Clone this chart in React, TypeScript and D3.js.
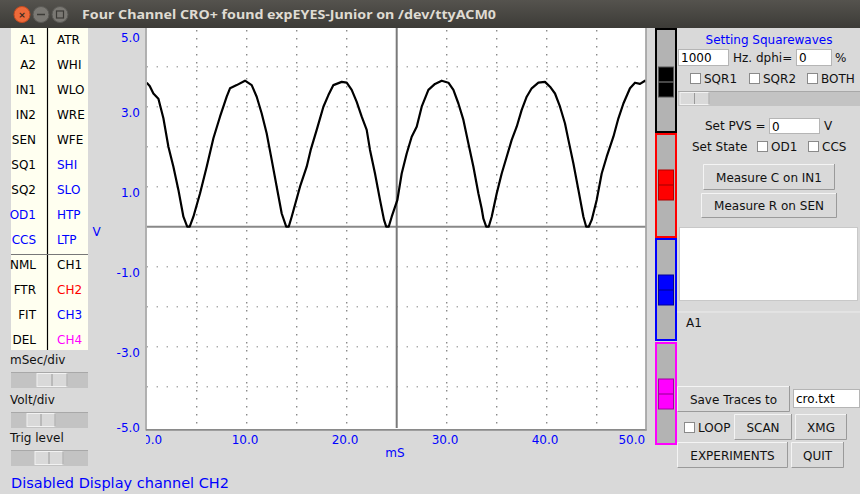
import React from "react";
import * as d3 from "d3";

// ---- data ----
const timeMs = [0, 0.3, 0.67, 1.17, 1.67, 2.17, 2.67, 3.17, 3.67, 4.05, 4.3, 4.67, 5.33, 6.0, 6.67, 7.33, 8.0, 8.33, 9.0, 9.83,
  10.5, 11.0, 11.5, 12.0, 12.5, 13.0, 13.5, 13.95, 14.2, 14.5, 15.33, 16.0, 16.4, 17.0, 17.67, 18.17, 18.67, 19.5,
  20.0, 20.5, 21.0, 21.5, 22.0, 22.33, 22.83, 23.33, 23.73, 23.95, 24.2, 24.5, 25.07, 25.5, 26.0, 26.5, 27.0, 27.5, 28.17, 28.83, 29.5,
  30.17, 30.67, 31.17, 31.67, 32.17, 32.67, 33.17, 33.5, 33.67, 33.95, 34.2, 34.5, 35.0, 35.5, 36.0, 36.5, 37.0, 37.5, 38.0, 38.5, 39.17, 39.83,
  40.33, 40.83, 41.33, 41.83, 42.17, 42.67, 43.17, 43.67, 43.95, 44.2, 44.5, 45.0, 45.5, 46.0, 46.67, 47.17, 47.67, 48.33, 48.83, 49.33, 49.83, 50.0];
const voltage = [3.6, 3.52, 3.33, 3.2, 2.71, 2.0, 1.5, 0.92, 0.25, 0, 0, 0.25, 0.83, 1.5, 2.21, 2.75, 3.25, 3.46, 3.54, 3.65,
  3.54, 3.25, 2.83, 2.33, 1.67, 1.0, 0.33, 0, 0, 0.25, 1.0, 1.5, 1.92, 2.42, 3.0, 3.29, 3.54, 3.62,
  3.6, 3.42, 3.12, 2.75, 2.42, 1.92, 1.33, 0.67, 0.17, 0, 0, 0.25, 0.67, 1.33, 1.83, 2.25, 2.5, 3.0, 3.42, 3.57, 3.65,
  3.6, 3.42, 3.08, 2.67, 2.08, 1.5, 0.83, 0.45, 0.2, 0, 0, 0.25, 0.83, 1.33, 1.75, 2.17, 2.5, 2.92, 3.25, 3.46, 3.6, 3.62,
  3.5, 3.33, 3.0, 2.58, 2.17, 1.58, 0.92, 0.25, 0, 0, 0.17, 0.67, 1.33, 1.75, 2.25, 2.71, 3.08, 3.46, 3.6, 3.57, 3.65, 3.62];

const yTicks = [5, 3, 1, -1, -3, -5];
const xTicks = [0, 10, 20, 30, 40, 50];
const xGrid = [5, 10, 15, 20, 30, 35, 40, 45];
const yGrid = [4, 3, 2, 1, -1, -2, -3, -4];
const cursorMs = 25;

const leftCol = ["A1", "A2", "IN1", "IN2", "SEN", "SQ1", "SQ2", "OD1", "CCS", "NML", "FTR", "FIT", "DEL"];
const leftColColors = ["#000", "#000", "#000", "#000", "#000", "#000", "#000", "#0000ff", "#0000ff", "#000", "#000", "#000", "#000"];
const rightCol = ["ATR", "WHI", "WLO", "WRE", "WFE", "SHI", "SLO", "HTP", "LTP", "CH1", "CH2", "CH3", "CH4"];
const rightColColors = ["#000", "#000", "#000", "#000", "#000", "#0000ff", "#0000ff", "#0000ff", "#0000ff", "#000", "#ff0000", "#0000ff", "#ff00ff"];

const channelColors = ["#000000", "#ff0000", "#0000ff", "#ff00ff"];
const channelThumbDark = ["#555555", "#b00000", "#00009a", "#a000a0"];

const TITLE = "Four Channel CRO+ found expEYES-Junior on /dev/ttyACM0";
const STATUS = "Disabled Display channel CH2";

const FONT = "DejaVu Sans, Verdana, sans-serif";
const BG = "#d9d9d9";

function Button({ x, y, w, h, label }: { x: number; y: number; w: number; h: number; label: string }) {
  return (
    <g>
      <rect x={x} y={y} width={w} height={h} fill={BG} />
      <path d={`M${x + 0.5},${y + h} V${y + 0.5} H${x + w}`} stroke="#f4f4f4" fill="none" />
      <path d={`M${x + 0.5},${y + h - 0.5} H${x + w - 0.5} V${y}`} stroke="#9a9a9a" fill="none" />
      <text x={x + w / 2} y={y + h / 2 + 4.5} textAnchor="middle" fontSize={12} fontFamily={FONT} fill="#111">{label}</text>
    </g>
  );
}

function Entry({ x, y, w, h, value }: { x: number; y: number; w: number; h: number; value: string }) {
  return (
    <g>
      <rect x={x + 0.5} y={y + 0.5} width={w - 1} height={h - 1} fill="#fff" stroke="#b5b5b5" />
      <text x={x + 3} y={y + h / 2 + 4.5} fontSize={12} fontFamily={FONT} fill="#000">{value}</text>
    </g>
  );
}

function Check({ x, y, label }: { x: number; y: number; label: string }) {
  return (
    <g>
      <rect x={x + 0.5} y={y + 0.5} width={10} height={10} fill="#fff" stroke="#8a8a8a" />
      <text x={x + 14} y={y + 10} fontSize={12} fontFamily={FONT} fill="#111">{label}</text>
    </g>
  );
}

function HSlider({ x, y, w, h, tx, tw }: { x: number; y: number; w: number; h: number; tx: number; tw: number }) {
  return (
    <g>
      <rect x={x} y={y} width={w} height={h} fill="#c3c3c3" />
      <line x1={x} x2={x + w} y1={y + 0.5} y2={y + 0.5} stroke="#a8a8a8" />
      <rect x={tx} y={y + 1.5} width={tw} height={h - 3} fill="#d9d9d9" stroke="#f2f2f2" />
      <line x1={tx + tw / 2} x2={tx + tw / 2} y1={y + 2} y2={y + h - 2} stroke="#9a9a9a" />
      <line x1={tx + tw} x2={tx + tw} y1={y + 1.5} y2={y + h - 1.5} stroke="#9a9a9a" />
    </g>
  );
}

export default function App() {
  const xScale = d3.scaleLinear().domain([0, 50]).range([146.7, 646.7]);
  const yScale = d3.scaleLinear().domain([-5, 5]).range([426.7, 26.7]);
  const line = d3.line<number>().x((_, i) => xScale(timeMs[i])).y((v) => yScale(v));
  const rowY = d3.scaleLinear().domain([0, 1]).range([44, 69]);

  const sliderTops = [29, 134, 239, 343];
  const sliderH = [103, 103, 101, 101];
  const thumbTops = [67, 170, 275, 379];

  return (
    <svg width={860} height={494} style={{ position: "fixed", left: 0, top: 0, display: "block" }}>
      <defs>
        <clipPath id="plotclip"><rect x={146.7} y={28} width={499} height={401} /></clipPath>
        <clipPath id="xlabclip"><rect x={146} y={428} width={510} height={30} /></clipPath>
        <linearGradient id="tb" x1="0" y1="0" x2="0" y2="1">
          <stop offset="0" stopColor="#55534e" />
          <stop offset="1" stopColor="#3c3b37" />
        </linearGradient>
      </defs>
      <rect x={0} y={0} width={860} height={494} fill={BG} />

      {/* left key panel */}
      <rect x={11} y={28} width={77} height={322} fill="#fffff0" />
      <line x1={47.5} x2={47.5} y1={28} y2={350} stroke="#000" strokeWidth={1.2} />
      <line x1={11} x2={88} y1={254.5} y2={254.5} stroke="#777" strokeWidth={1} />
      {leftCol.map((s, i) => (
        <text key={s} x={36} y={rowY(i)} textAnchor="end" fontSize={12} fontFamily={FONT} fill={leftColColors[i]}>{s}</text>
      ))}
      {rightCol.map((s, i) => (
        <text key={s} x={57} y={rowY(i)} fontSize={12} fontFamily={FONT} fill={rightColColors[i]}>{s}</text>
      ))}

      {/* left sliders */}
      <text x={10} y={364} fontSize={12} fontFamily={FONT} fill="#111">mSec/div</text>
      <HSlider x={11} y={372} w={77} h={16} tx={37} tw={30} />
      <text x={10} y={404} fontSize={12} fontFamily={FONT} fill="#111">Volt/div</text>
      <HSlider x={11} y={412} w={77} h={16} tx={27} tw={28} />
      <text x={10} y={442} fontSize={12} fontFamily={FONT} fill="#111">Trig level</text>
      <HSlider x={11} y={450} w={77} h={16} tx={35} tw={28} />

      {/* plot */}
      <rect x={146.7} y={28} width={499} height={401} fill="#fff" />
      <g clipPath="url(#plotclip)">
        {yGrid.map((v) => (
          <line key={"h" + v} x1={146.7} x2={646.7} y1={yScale(v)} y2={yScale(v)} stroke="#8a8a8a" strokeWidth={1.6} strokeDasharray="1 9" />
        ))}
        {xGrid.map((t) => (
          <line key={"v" + t} x1={xScale(t)} x2={xScale(t)} y1={30} y2={429} stroke="#8a8a8a" strokeWidth={1.4} strokeDasharray="1.6 6.4" />
        ))}
        <line x1={146.7} x2={646.7} y1={yScale(0)} y2={yScale(0)} stroke="#888" strokeWidth={2} />
        <line x1={xScale(cursorMs)} x2={xScale(cursorMs)} y1={26} y2={428} stroke="#7a7a7a" strokeWidth={2} />
        <path d={line(voltage) || ""} fill="none" stroke="#000" strokeWidth={2.2} strokeLinejoin="round" />
      </g>
      <line x1={146} x2={146} y1={26} y2={430.5} stroke="#a0a0a0" strokeWidth={1.5} />
      <line x1={146} x2={646.5} y1={429.8} y2={429.8} stroke="#8a8a8a" strokeWidth={1.8} />
      <line x1={646} x2={646} y1={26} y2={430.5} stroke="#9a9a9a" strokeWidth={1.5} />

      {/* y labels */}
      {yTicks.map((v) => {
        const top = Math.min(Math.max(yScale(v) + 1.5, 33), 423);
        return (
          <text key={"yl" + v} x={140} y={top + 8.8} textAnchor="end" fontSize={12} fontFamily={FONT} fill="#0000ff">{v.toFixed(1)}</text>
        );
      })}
      <text x={96.7} y={236} textAnchor="middle" fontSize={12} fontFamily={FONT} fill="#0000ff">V</text>

      {/* x labels */}
      <g clipPath="url(#xlabclip)">
        {xTicks.map((t, i) => {
          const anchor = i === 0 ? "start" : i === xTicks.length - 1 ? "end" : "middle";
          const x = i === 0 ? xScale(t) - 3.7 : i === xTicks.length - 1 ? xScale(t) - 1.5 : xScale(t) - 1.7;
          return (
            <text key={"xl" + t} x={x} y={444} textAnchor={anchor} fontSize={12} fontFamily={FONT} fill="#0000ff">{t.toFixed(1)}</text>
          );
        })}
      </g>
      <text x={395} y={457} textAnchor="middle" fontSize={12} fontFamily={FONT} fill="#0000ff">mS</text>

      {/* channel vertical sliders */}
      {channelColors.map((c, i) => (
        <g key={"cs" + i}>
          <rect x={656} y={sliderTops[i]} width={20} height={sliderH[i]} fill="#b3b3b3" stroke={c} strokeWidth={2} />
          <rect x={658.5} y={thumbTops[i]} width={15} height={30} fill={c} stroke={channelThumbDark[i]} strokeWidth={1} />
          <line x1={658.5} x2={673.5} y1={thumbTops[i] + 15} y2={thumbTops[i] + 15} stroke={i === 0 ? "#777" : channelThumbDark[i]} strokeWidth={1.2} />
        </g>
      ))}

      {/* right panel */}
      <text x={769} y={44} textAnchor="middle" fontSize={12} fontFamily={FONT} fill="#0000ff">Setting Squarewaves</text>
      <Entry x={678} y={49} w={51} h={17} value="1000" />
      <text x={733} y={62} fontSize={12} fontFamily={FONT} fill="#111">Hz. dphi=</text>
      <Entry x={796} y={49} w={36} h={17} value="0" />
      <text x={835} y={62} fontSize={12} fontFamily={FONT} fill="#111">%</text>
      <Check x={690} y={73} label="SQR1" />
      <Check x={749} y={73} label="SQR2" />
      <Check x={807} y={73} label="BOTH" />
      <HSlider x={678} y={91} w={182} h={15} tx={680} tw={29} />

      <text x={705} y={130} fontSize={12} fontFamily={FONT} fill="#111">Set PVS =</text>
      <Entry x={769} y={118} w={51} h={16} value="0" />
      <text x={824} y={130} fontSize={12} fontFamily={FONT} fill="#111">V</text>
      <text x={692} y={151} fontSize={12} fontFamily={FONT} fill="#111">Set State</text>
      <Check x={757} y={141} label="OD1" />
      <Check x={808} y={141} label="CCS" />
      <Button x={703} y={164} w={132} h={26} label="Measure C on IN1" />
      <Button x={701} y={193} w={136} h={25} label="Measure R on SEN" />

      <rect x={679.5} y={227.5} width={178} height={73} fill="#fff" stroke="#c8c8c8" />
      <line x1={677} x2={860} y1={312} y2={312} stroke="#ececec" />
      <text x={686} y={327} fontSize={12} fontFamily={FONT} fill="#111">A1</text>

      <Button x={677} y={386} w={113} h={26} label="Save Traces to" />
      <Entry x={793} y={389} w={67} h={19} value="cro.txt" />
      <Check x={684} y={422} label="LOOP" />
      <Button x={734} y={414} w={58} h={26} label="SCAN" />
      <Button x={795} y={414} w={52} h={26} label="XMG" />
      <Button x={677} y={442} w={111} h={26} label="EXPERIMENTS" />
      <Button x={791} y={442} w={53} h={26} label="QUIT" />

      {/* status */}
      <text x={11} y={488} fontSize={14.5} fontFamily={FONT} fill="#0000ff" textLength={218} lengthAdjust="spacingAndGlyphs">{STATUS}</text>

      {/* title bar */}
      <rect x={0} y={0} width={860} height={28} fill="url(#tb)" />
      <circle cx={22} cy={14.5} r={8} fill="#ef6a3a" stroke="#c44a1f" />
      <text x={22} y={18} textAnchor="middle" fontSize={9} fontWeight="bold" fontFamily={FONT} fill="#3c2a20">×</text>
      <circle cx={41} cy={14.5} r={8} fill="#7a7873" stroke="#5a5955" />
      <line x1={37} x2={45} y1={14.5} y2={14.5} stroke="#3c3b37" strokeWidth={1.5} />
      <circle cx={60} cy={14.5} r={8} fill="#7a7873" stroke="#5a5955" />
      <rect x={56.5} y={11} width={7} height={7} fill="none" stroke="#3c3b37" strokeWidth={1.2} />
      <text x={82} y={19} fontSize={13} fontWeight="bold" fontFamily="Noto Sans, DejaVu Sans, sans-serif" fill="#dfdbd2" textLength={414} lengthAdjust="spacingAndGlyphs">{TITLE}</text>
    </svg>
  );
}
